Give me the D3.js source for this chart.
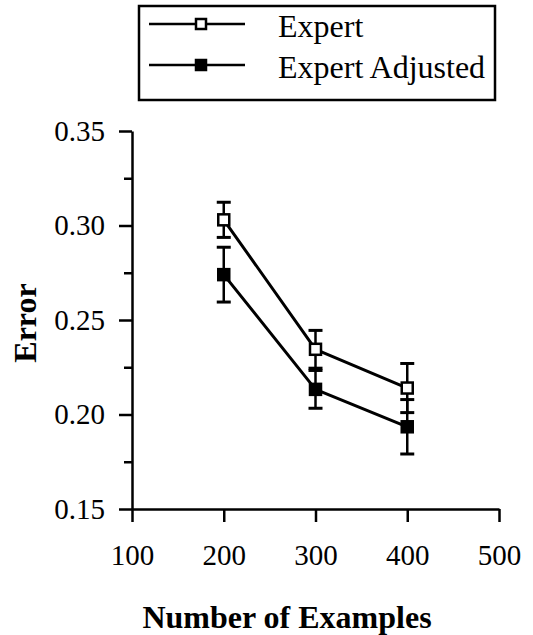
<!DOCTYPE html>
<html>
<head>
<meta charset="utf-8">
<script src="https://cdn.jsdelivr.net/npm/d3@7"></script>
<style>
body { margin: 0; background: #fff; }
text { font-family: "Liberation Serif", "Times New Roman", serif; }
</style>
</head>
<body>
<script>
const SvgWidth = 533, SvgHeight = 635;
var margin = {top: 131, right: 34, bottom: 126, left: 132};
var Width = SvgWidth - margin.left - margin.right;
var Height = SvgHeight - margin.top - margin.bottom;

// data
var examples = [200, 300, 400];
var expert = [0.303, 0.2345, 0.214];
var expertErr = [0.0093, 0.0100, 0.0130];
var adjusted = [0.274, 0.2133, 0.1935];
var adjustedErr = [0.0145, 0.0100, 0.0144];
var seriesNames = ["Expert", "Expert Adjusted"];
var xTicks = [100, 200, 300, 400, 500];
var yTicks = [0.15, 0.20, 0.25, 0.30, 0.35];
var yMinorTicks = [0.175, 0.225, 0.275, 0.325];

var series = [
	{name: seriesNames[0], values: expert, err: expertErr, filled: false},
	{name: seriesNames[1], values: adjusted, err: adjustedErr, filled: true}
];

var svg = d3.select('body')
			.append('svg')
			.attr('width', SvgWidth)
			.attr('height', SvgHeight)
			.style('background-color', 'white');
var g = svg.append('g')
			.attr("transform", 'translate(' + margin.left + "," + margin.top + ")");

var x = d3.scaleLinear().domain([100, 500]).range([0, Width]),
	y = d3.scaleLinear().domain([0.15, 0.35]).range([Height, 0]);

// axes
var xAxis = g.append("g")
	.attr("transform", "translate(0," + Height + ")")
	.call(d3.axisBottom(x).tickValues(xTicks).tickFormat(d3.format("d"))
		.tickSize(13).tickSizeOuter(0).tickPadding(22));
var yAxis = g.append("g")
	.call(d3.axisLeft(y).tickValues(yTicks).tickFormat(d3.format(".2f"))
		.tickSize(13).tickSizeOuter(0).tickPadding(14));
var yMinor = g.append("g")
	.call(d3.axisLeft(y).tickValues(yMinorTicks).tickFormat("")
		.tickSize(8).tickSizeOuter(0));
yMinor.select(".domain").remove();

[xAxis, yAxis, yMinor].forEach(function(a) {
	a.selectAll("path, line").attr("stroke", "#000").attr("stroke-width", 2.5);
	a.selectAll("text").attr("fill", "#000").style("font-size", "29px");
});

// axis titles
svg.append("text")
	.attr("x", 287)
	.attr("y", 628)
	.attr("text-anchor", "middle")
	.style("font-size", "32px").style("font-weight", "bold")
	.text("Number of Examples");
svg.append("text")
	.attr("transform", "translate(36,323) rotate(-90)")
	.attr("text-anchor", "middle")
	.style("font-size", "32px").style("font-weight", "bold")
	.text("Error");

var line = d3.line()
	.x(function(d, i) { return x(examples[i]); })
	.y(function(d) { return y(d); });

var capW = 7, markSize = 11;

series.forEach(function(s) {
	var eb = g.append("g");
	s.values.forEach(function(v, i) {
		var cx = x(examples[i]);
		eb.append("line").attr("x1", cx).attr("x2", cx)
			.attr("y1", y(v - s.err[i])).attr("y2", y(v + s.err[i]))
			.attr("stroke", "#000").attr("stroke-width", 2.5);
		[v - s.err[i], v + s.err[i]].forEach(function(e) {
			eb.append("line").attr("x1", cx - capW).attr("x2", cx + capW)
				.attr("y1", y(e)).attr("y2", y(e))
				.attr("stroke", "#000").attr("stroke-width", 3);
		});
	});
});

series.forEach(function(s) {
	g.append("path")
		.datum(s.values)
		.attr("fill", "none")
		.attr("stroke", "#000")
		.attr("stroke-width", 3)
		.attr("stroke-linejoin", "round")
		.attr("d", line);
});

series.forEach(function(s) {
	g.selectAll(null)
		.data(s.values)
		.enter().append("rect")
		.attr("x", function(d, i) { return x(examples[i]) - markSize / 2; })
		.attr("y", function(d) { return y(d) - markSize / 2; })
		.attr("width", markSize)
		.attr("height", markSize)
		.attr("fill", s.filled ? "#000" : "#fff")
		.attr("stroke", "#000")
		.attr("stroke-width", 2.5);
});

// legend
var lg = svg.append("g");
lg.append("rect")
	.attr("x", 139).attr("y", 6).attr("width", 356).attr("height", 94)
	.attr("fill", "none").attr("stroke", "#000").attr("stroke-width", 2.5);
series.forEach(function(s, i) {
	var ly = 24 + i * 41;
	lg.append("line").attr("x1", 149).attr("x2", 245)
		.attr("y1", ly).attr("y2", ly)
		.attr("stroke", "#000").attr("stroke-width", 2.5);
	lg.append("rect")
		.attr("x", 201 - 5).attr("y", ly - 5).attr("width", 10).attr("height", 10)
		.attr("fill", s.filled ? "#000" : "#fff")
		.attr("stroke", "#000").attr("stroke-width", 2.5);
	lg.append("text")
		.attr("x", 278).attr("y", ly + 13)
		.style("font-size", "32px")
		.text(s.name);
});
</script>
</body>
</html>
